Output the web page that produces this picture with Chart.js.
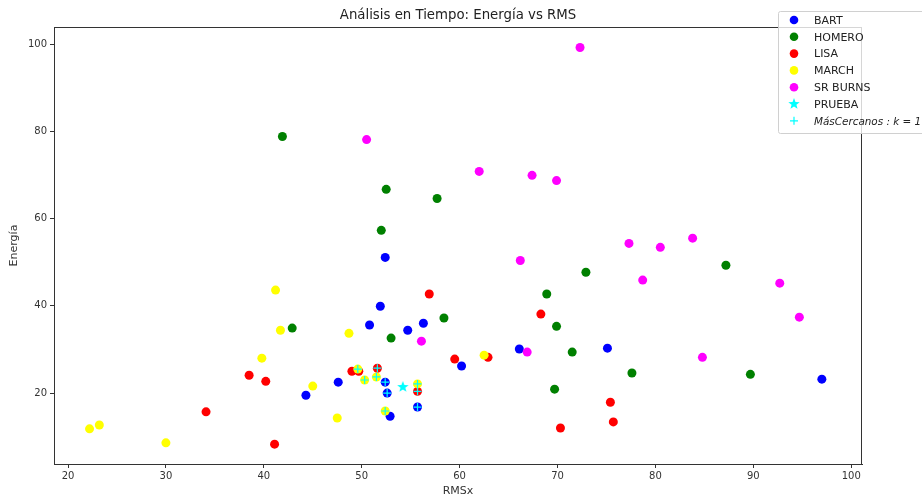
<!DOCTYPE html>
<html>
<head>
<meta charset="utf-8">
<script src="https://cdn.jsdelivr.net/npm/chart.js@4.4.0/dist/chart.umd.min.js"></script>
<style>
  html, body { margin: 0; padding: 0; background: #fff; }
  #wrap { width: 922px; height: 499px; }
</style>
</head>
<body>
<div id="wrap"><canvas id="chart" width="922" height="499"></canvas></div>
<script>
// datos (RMSx, Energia)
const bartX = [52.4, 51.9, 50.8, 54.7, 56.3, 47.6, 44.3, 52.4, 52.6, 52.9, 55.7, 60.2, 66.1, 75.1, 97.0];
const bartY = [51.1, 39.9, 35.6, 34.4, 36.0, 22.5, 19.5, 22.5, 20.0, 14.7, 16.8, 26.2, 30.1, 30.3, 23.2];

const homeroX = [41.9, 52.5, 57.7, 52.0, 42.9, 53.0, 58.4, 68.9, 69.9, 72.9, 71.5, 69.7, 77.6, 87.2, 89.7];
const homeroY = [78.8, 66.7, 64.6, 57.3, 34.9, 32.6, 37.2, 42.7, 35.3, 47.7, 29.4, 20.9, 24.6, 49.3, 24.3];

const lisaX = [56.9, 68.3, 59.5, 62.9, 49.0, 49.7, 51.6, 55.7, 38.5, 40.2, 34.1, 41.1, 75.4, 75.7, 70.3];
const lisaY = [42.7, 38.1, 27.8, 28.2, 25.0, 25.0, 25.7, 20.4, 24.1, 22.7, 15.7, 8.3, 17.9, 13.4, 12.0];

const marchX = [41.2, 41.7, 48.7, 39.8, 45.0, 47.5, 22.2, 23.2, 30.0, 49.6, 50.3, 51.5, 55.7, 52.4, 62.5];
const marchY = [43.6, 34.4, 33.7, 28.0, 21.6, 14.3, 11.8, 12.7, 8.6, 25.5, 23.0, 23.7, 22.1, 15.9, 28.7];

const burnsX = [72.3, 50.5, 62.0, 67.4, 69.9, 66.2, 77.3, 80.5, 83.8, 78.7, 92.7, 94.7, 56.1, 66.9, 84.8];
const burnsY = [99.2, 78.1, 70.8, 69.9, 68.7, 50.4, 54.3, 53.4, 55.5, 45.9, 45.2, 37.4, 31.9, 29.4, 28.2];

const pruebaX = [54.2];
const pruebaY = [21.4];

const cercanosX = [49.6, 51.6, 50.3, 51.5, 52.4, 52.6, 55.7, 55.7, 55.7, 52.4];
const cercanosY = [25.5, 25.7, 23.0, 23.7, 22.5, 20.0, 22.1, 20.4, 16.8, 15.9];

const xTicks = [20, 30, 40, 50, 60, 70, 80, 90, 100];
const yTicks = [20, 40, 60, 80, 100];

const FONT = "'DejaVu Sans', sans-serif";

function pts(xs, ys) {
    return xs.map((x, i) => ({ x: x, y: ys[i] }));
}

// estrella rellena como en matplotlib
function makeStar(size, color) {
    const c = document.createElement('canvas');
    c.width = size; c.height = size;
    const g = c.getContext('2d');
    const cx = size / 2, cy = size / 2, R = size / 2, r = R * 0.42;
    g.beginPath();
    for (let i = 0; i < 10; i++) {
        const rad = i % 2 === 0 ? R : r;
        const a = -Math.PI / 2 + i * Math.PI / 5;
        const px = cx + rad * Math.cos(a), py = cy + rad * Math.sin(a);
        if (i === 0) g.moveTo(px, py); else g.lineTo(px, py);
    }
    g.closePath();
    g.fillStyle = color;
    g.fill();
    return c;
}
const starImg = makeStar(12, '#00ffff');

const series = [
    { label: 'BART', xs: bartX, ys: bartY, color: '#0000ff' },
    { label: 'HOMERO', xs: homeroX, ys: homeroY, color: '#008000' },
    { label: 'LISA', xs: lisaX, ys: lisaY, color: '#ff0000' },
    { label: 'MARCH', xs: marchX, ys: marchY, color: '#ffff00' },
    { label: 'SR BURNS', xs: burnsX, ys: burnsY, color: '#ff00ff' }
];

const datasets = series.map((s, i) => ({
    label: s.label,
    data: pts(s.xs, s.ys),
    backgroundColor: s.color,
    borderColor: s.color,
    borderWidth: 0,
    pointRadius: 4.5,
    order: 10 - i
}));

datasets.push({
    label: 'PRUEBA',
    data: pts(pruebaX, pruebaY),
    backgroundColor: '#00ffff',
    borderColor: '#00ffff',
    pointStyle: starImg,
    order: 2
});

datasets.push({
    label: 'cercanos',
    data: pts(cercanosX, cercanosY),
    backgroundColor: '#00ffff',
    borderColor: '#00ffff',
    pointStyle: 'cross',
    pointRadius: 4,
    borderWidth: 1.2,
    order: 1
});

// marco, titulo y leyenda a mano
const decor = {
    id: 'decor',
    afterDraw(chart) {
        const ctx = chart.ctx;
        const a = chart.chartArea;
        ctx.save();
        ctx.strokeStyle = '#333';
        ctx.lineWidth = 1;
        ctx.strokeRect(a.left + 0.5, a.top + 0.5, a.right - a.left - 1, a.bottom - a.top);

        ctx.fillStyle = '#222';
        ctx.font = '13.3px ' + FONT;
        ctx.textAlign = 'center';
        ctx.textBaseline = 'middle';
        ctx.fillText('Análisis en Tiempo: Energía vs RMS', (a.left + a.right) / 2, 16);

        // leyenda
        const lx = 778, ly = 11, lw = 160, lh = 122;
        ctx.fillStyle = 'rgba(255,255,255,0.8)';
        ctx.strokeStyle = '#d0d0d0';
        ctx.beginPath();
        ctx.roundRect(lx + 0.5, ly + 0.5, lw, lh, 2);
        ctx.fill();
        ctx.stroke();

        const rows = [
            ['BART', '#0000ff', 'dot'],
            ['HOMERO', '#008000', 'dot'],
            ['LISA', '#ff0000', 'dot'],
            ['MARCH', '#ffff00', 'dot'],
            ['SR BURNS', '#ff00ff', 'dot'],
            ['PRUEBA', '#00ffff', 'star'],
            ['MásCercanos : k = 1', '#00ffff', 'plus']
        ];
        ctx.textAlign = 'left';
        rows.forEach((r, i) => {
            const y = 20 + i * 16.8;
            const x = 794;
            if (r[2] === 'dot') {
                ctx.fillStyle = r[1];
                ctx.beginPath();
                ctx.arc(x, y, 4.3, 0, Math.PI * 2);
                ctx.fill();
            } else if (r[2] === 'star') {
                ctx.drawImage(starImg, x - 6, y - 6);
            } else {
                ctx.strokeStyle = r[1];
                ctx.lineWidth = 1.2;
                ctx.beginPath();
                ctx.moveTo(x - 4, y); ctx.lineTo(x + 4, y);
                ctx.moveTo(x, y - 4); ctx.lineTo(x, y + 4);
                ctx.stroke();
            }
            ctx.fillStyle = '#222';
            ctx.font = (i === 6 ? 'italic 10.4px ' : '11px ') + FONT;
            ctx.fillText(r[0], 814, y + 1);
        });
        ctx.restore();
    }
};

new Chart(document.getElementById('chart'), {
    type: 'scatter',
    data: { datasets: datasets },
    options: {
        responsive: false,
        animation: false,
        layout: { padding: { top: 27, right: 60, left: 0, bottom: 0 } },
        plugins: {
            legend: { display: false },
            tooltip: { enabled: false }
        },
        scales: {
            x: {
                type: 'linear',
                min: 18.57,
                max: 101.1,
                afterBuildTicks: axis => { axis.ticks = xTicks.map(v => ({ value: v })); },
                afterFit: scale => { scale.height = 35; },
                grid: { drawOnChartArea: false, drawTicks: true, tickLength: 4, color: '#333' },
                border: { display: true, color: '#333' },
                ticks: { color: '#333', font: { family: FONT, size: 10 }, padding: 2, maxRotation: 0 },
                title: { display: true, text: 'RMSx', color: '#333', font: { family: FONT, size: 11 }, padding: { top: 0, bottom: 1 } }
            },
            y: {
                type: 'linear',
                min: 3.75,
                max: 103.9,
                afterBuildTicks: axis => { axis.ticks = yTicks.map(v => ({ value: v })); },
                afterFit: scale => { scale.width = 54; },
                grid: { drawOnChartArea: false, drawTicks: true, tickLength: 4, color: '#333' },
                border: { display: true, color: '#333' },
                ticks: { color: '#333', font: { family: FONT, size: 10 }, padding: 3 },
                title: { display: true, text: 'Energía', color: '#333', font: { family: FONT, size: 11 }, padding: { top: 8, bottom: 0 } }
            }
        }
    },
    plugins: [decor]
});
</script>
</body>
</html>
